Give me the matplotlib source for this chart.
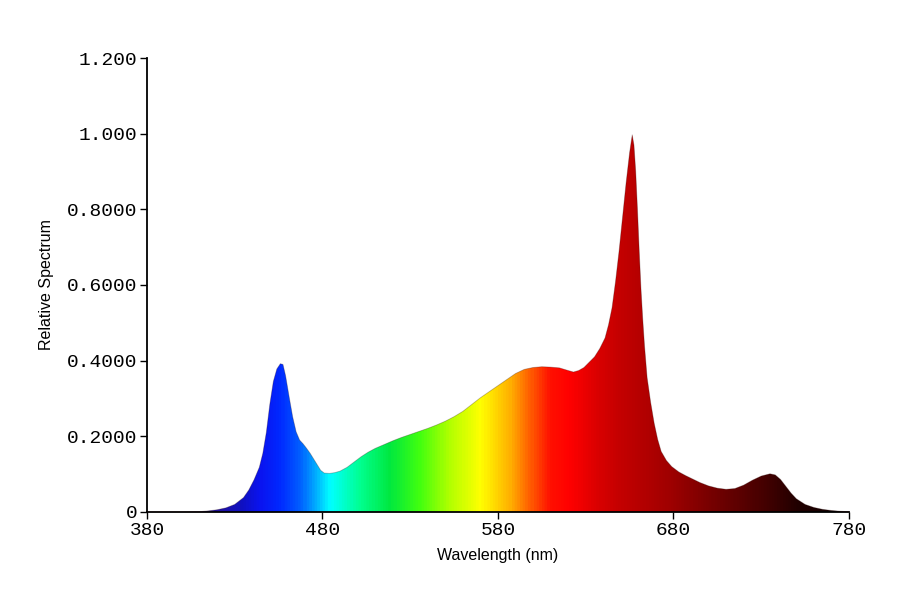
import numpy as np
import matplotlib
matplotlib.use("Agg")
import matplotlib.pyplot as plt
from matplotlib.colors import LinearSegmentedColormap
from matplotlib.patches import Polygon

# spectrum (nm, relative)
wavelength = [380, 400, 410, 415, 420, 425, 430, 435, 438, 441, 444, 446, 448, 450,
              452, 454, 456, 457.5, 459, 461, 463, 465, 467, 469, 471, 473, 475, 477,
              479, 481, 484, 487, 490, 494, 498, 502, 506, 510, 515, 520, 525, 530,
              535, 540, 545, 550, 555, 560, 565, 570, 575, 580, 585, 590, 595, 600,
              605, 610, 615, 620, 623, 626, 629, 632, 635, 638, 641, 643, 645, 647,
              649, 651, 653, 655, 656.5, 657.5, 658.5, 659.5, 660.5, 661.5, 662.5,
              663.5, 665, 667, 669, 671, 673, 676, 679, 683, 687, 691, 695, 700, 705,
              710, 715, 720, 725, 730, 735, 738, 741, 744, 747, 750, 755, 760, 765,
              770, 775, 780]
spectrum = [0.0, 0.0, 0.001, 0.003, 0.006, 0.011, 0.02, 0.038, 0.058, 0.085, 0.118, 0.155,
            0.21, 0.285, 0.345, 0.378, 0.392, 0.39, 0.36, 0.305, 0.252, 0.212, 0.19, 0.18,
            0.168, 0.155, 0.14, 0.125, 0.11, 0.103, 0.102, 0.104, 0.108, 0.118, 0.132,
            0.146, 0.158, 0.168, 0.178, 0.188, 0.197, 0.205, 0.213, 0.221, 0.23, 0.24,
            0.252, 0.266, 0.284, 0.302, 0.318, 0.334, 0.35, 0.366, 0.377, 0.382, 0.384,
            0.383, 0.381, 0.374, 0.370, 0.374, 0.382, 0.396, 0.41, 0.432, 0.46, 0.495,
            0.54, 0.61, 0.69, 0.78, 0.87, 0.95, 0.997, 0.97, 0.90, 0.80, 0.69, 0.59,
            0.51, 0.44, 0.355, 0.29, 0.235, 0.192, 0.16, 0.136, 0.12, 0.106, 0.096, 0.087,
            0.078, 0.069, 0.063, 0.06, 0.062, 0.071, 0.084, 0.095, 0.101, 0.098, 0.086,
            0.068, 0.05, 0.035, 0.02, 0.012, 0.007, 0.004, 0.002, 0.001]

x_ticks = [380, 480, 580, 680, 780]
y_ticks = [0, 0.2, 0.4, 0.6, 0.8, 1.0, 1.2]
y_labels = ["0", "0.2000", "0.4000", "0.6000", "0.8000", "1.000", "1.200"]

# colour of the fill along the wavelength axis
stops = [(380, "#20105a"), (420, "#2010a0"), (433, "#1010c0"), (444, "#0a14f0"),
         (455, "#0028ff"), (467, "#0060ff"), (476, "#00b0ff"), (484, "#00ffff"),
         (501, "#00ff90"), (518, "#00e840"), (535, "#40ff10"), (552, "#b0ff00"),
         (570, "#ffff00"), (587, "#ffb000"), (598, "#ff6000"), (610, "#ff1000"),
         (621, "#ff0000"), (638, "#d80000"), (650, "#c40000"), (678, "#a00000"),
         (706, "#700000"), (735, "#400000"), (752, "#200000"), (780, "#100000")]
cmap = LinearSegmentedColormap.from_list(
    "spec", [((w - 380) / 400, c) for w, c in stops])

fig = plt.figure(figsize=(9, 6), dpi=100)
ax = fig.add_axes([0.1633, 0.1467, 0.78, 0.7566])

grad = np.linspace(0, 1, 800).reshape(1, -1)
im = ax.imshow(grad, cmap=cmap, aspect="auto", extent=[380, 780, 0, 1.0],
               origin="lower", zorder=2)
poly = Polygon(list(zip(wavelength, spectrum)) + [(780, 0), (380, 0)],
               closed=True, facecolor="none", edgecolor="none")
ax.add_patch(poly)
im.set_clip_path(poly)
ax.plot(wavelength, spectrum, color="#301010", lw=0.6, alpha=0.3, zorder=3)

ax.set_xlim(380, 780)
ax.set_ylim(0, 1.2)
ax.set_xticks(x_ticks)
ax.set_xticklabels([str(t) for t in x_ticks])
ax.set_yticks(y_ticks)
ax.set_yticklabels(y_labels)

for lab in ax.get_xticklabels() + ax.get_yticklabels():
    lab.set_family("Liberation Mono")
    lab.set_fontsize(14)

ax.spines["top"].set_visible(False)
ax.spines["right"].set_visible(False)
ax.spines["left"].set_linewidth(1.3)
ax.spines["bottom"].set_linewidth(1.3)
ax.tick_params(direction="out", length=5, width=1, pad=2)
ax.tick_params(axis="x", pad=2.5)

ax.set_xlabel("Wavelength (nm)", family="Liberation Sans", fontsize=11.5, labelpad=6)
ax.set_ylabel("Relative Spectrum", family="Liberation Sans", fontsize=11.5, labelpad=9)

fig.savefig("out.png", dpi=100)
